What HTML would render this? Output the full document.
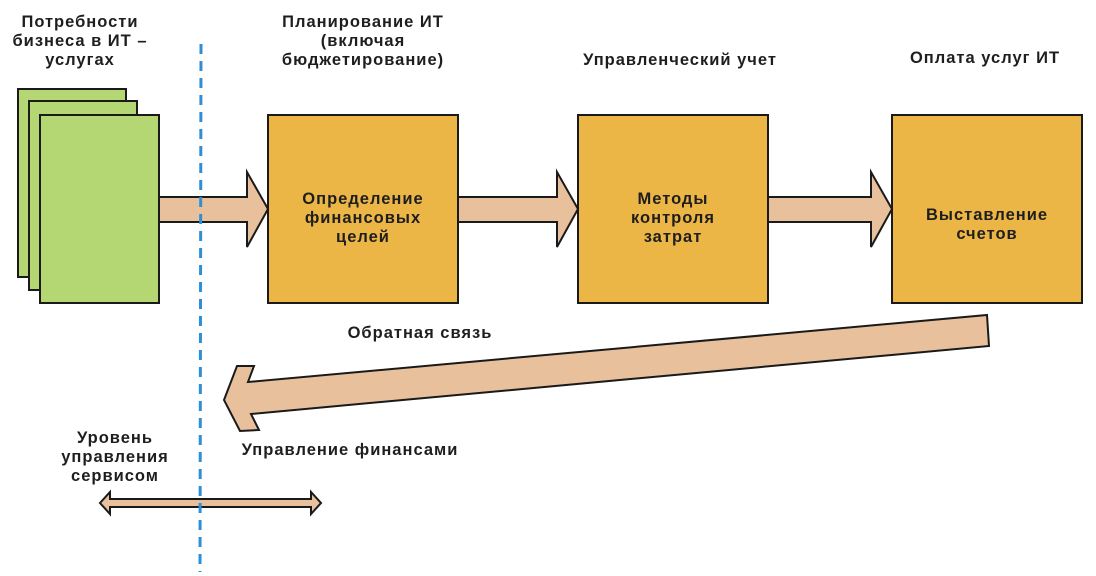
<!DOCTYPE html>
<html><head><meta charset="utf-8"><style>
html,body{margin:0;padding:0;background:#fff;}
body{width:1096px;height:576px;position:relative;overflow:hidden;font-family:"Liberation Sans","DejaVu Sans",sans-serif;}
.t{position:absolute;font-weight:bold;font-size:16.5px;letter-spacing:1px;color:#1e1e1e;text-align:center;line-height:19px;white-space:nowrap;}
</style></head><body>
<svg width="1096" height="576" style="position:absolute;left:0;top:0">
<g stroke="#1a1a1a" stroke-width="2">
<rect x="18" y="89" width="108" height="188" fill="#b4d773"/>
<rect x="29" y="101" width="108" height="189" fill="#b4d773"/>
<rect x="40" y="115" width="119" height="188" fill="#b4d773"/>
<rect x="268" y="115" width="190" height="188" fill="#ecb646"/>
<rect x="578" y="115" width="190" height="188" fill="#ecb646"/>
<rect x="892" y="115" width="190" height="188" fill="#ecb646"/>
<g fill="#e8c09c" stroke-linejoin="miter">
<polygon points="159,197 247,197 247,172 268,209 247,247 247,222 159,222"/>
<polygon points="458,197 557,197 557,172 578,209 557,247 557,222 458,222"/>
<polygon points="768,197 871,197 871,172 892,209 871,247 871,222 768,222"/>
<polygon points="987,315 989,346 251,414 259,430 240,431 224,400 237,366 254,366 248,382"/>
<polygon points="100,503 110,492 110,499 311,499 311,492 321,503 311,514 311,507 110,507 110,514"/>
</g>
</g>
<line x1="201" y1="44" x2="200" y2="572" stroke="#2f8fd6" stroke-width="3" stroke-dasharray="10,7"/>
</svg>
<div class="t" style="left:-10px;top:13px;width:180px;">Потребности<br>бизнеса в ИТ –<br>услугах</div>
<div class="t" style="left:253px;top:13px;width:220px;">Планирование ИТ<br>(включая<br>бюджетирование)</div>
<div class="t" style="left:550px;top:51px;width:260px;">Управленческий учет</div>
<div class="t" style="left:870px;top:49px;width:230px;">Оплата услуг ИТ</div>
<div class="t" style="left:263px;top:190px;width:200px;">Определение<br>финансовых<br>целей</div>
<div class="t" style="left:573px;top:190px;width:200px;">Методы<br>контроля<br>затрат</div>
<div class="t" style="left:887px;top:206px;width:200px;">Выставление<br>счетов</div>
<div class="t" style="left:310px;top:324px;width:220px;">Обратная связь</div>
<div class="t" style="left:210px;top:441px;width:280px;">Управление финансами</div>
<div class="t" style="left:30px;top:429px;width:170px;">Уровень<br>управления<br>сервисом</div>
</body></html>
